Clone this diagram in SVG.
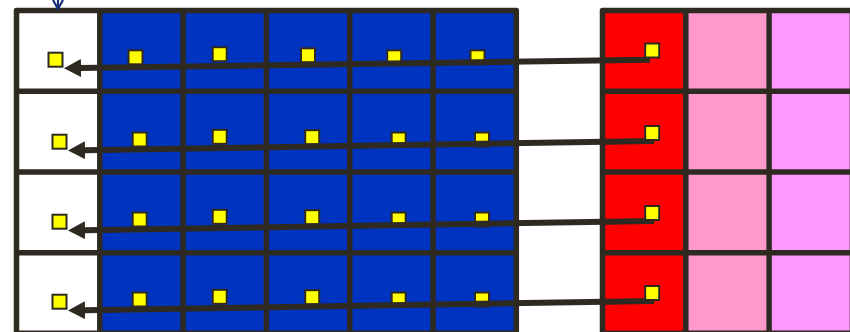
<svg xmlns="http://www.w3.org/2000/svg" width="850" height="332" viewBox="0 0 850 332">
<style>
.grid{fill:none;stroke:#2f2a21;stroke-width:5.5;stroke-linejoin:round}
.sq{fill:#ffff00;stroke:#2f2a21;stroke-width:2}
.arr{fill:none;stroke:#2f2a21;stroke-width:6;marker-end:url(#ah)}
</style>
<defs>
<marker id="ah" markerUnits="userSpaceOnUse" viewBox="0 0 18 18" refX="1" refY="9" markerWidth="18" markerHeight="18" orient="auto">
<path d="M0,0 L17,9 L0,18 z" fill="#2f2a21"/>
</marker>
</defs>
<rect width="850" height="332" fill="#ffffff"/>
<g id="left-grid">
<rect x="16.5" y="10.5" width="83.3" height="323" fill="#ffffff"/>
<rect x="99.8" y="10.5" width="416.5" height="323" fill="#0033c0"/>
<rect class="grid" x="16.5" y="10.5" width="499.8" height="322.8"/>
<path class="grid" d="M99.8,10.5V333.3M183.1,10.5V333.3M266.4,10.5V333.3M349.7,10.5V333.3M433,10.5V333.3M16.5,91.3H516.3M16.5,172H516.3M16.5,252.7H516.3"/>
</g>
<g id="right-grid">
<rect x="602.5" y="10.5" width="83.3" height="323" fill="#ff0000"/>
<rect x="685.8" y="10.5" width="83.3" height="323" fill="#ff99cc"/>
<rect x="769.1" y="10.5" width="83.3" height="323" fill="#ff99ff"/>
<rect class="grid" x="602.5" y="10.5" width="249.9" height="322.8"/>
<path class="grid" d="M685.8,10.5V333.3M769.1,10.5V333.3M602.5,91.3H852.4M602.5,172H852.4M602.5,252.7H852.4"/>
</g>
<g id="top-arrow" stroke="#16307a" stroke-width="2.2" fill="none">
<path d="M58,-2V9"/>
<path d="M53,0L58,9L63,0"/>
</g>
<g id="row1">
<rect class="sq" x="48.5" y="52.7" width="14" height="14"/>
<rect class="sq" x="128.5" y="50.3" width="14" height="14"/>
<rect class="sq" x="212.7" y="47.2" width="14" height="14"/>
<rect class="sq" x="301" y="48.3" width="14" height="14"/>
<rect class="sq" x="387.2" y="50.3" width="14" height="14"/>
<rect class="sq" x="470.5" y="50.3" width="14" height="14"/>
</g>
<g id="row2">
<rect class="sq" x="52.5" y="134.7" width="14" height="14"/>
<rect class="sq" x="132.7" y="132.5" width="14" height="14"/>
<rect class="sq" x="212.7" y="129.8" width="14" height="14"/>
<rect class="sq" x="305.2" y="130.2" width="14" height="14"/>
<rect class="sq" x="391.7" y="132.5" width="14" height="14"/>
<rect class="sq" x="475" y="132.5" width="14" height="14"/>
</g>
<g id="row3" transform="translate(0,80)">
<rect class="sq" x="52.5" y="134.7" width="14" height="14"/>
<rect class="sq" x="132.7" y="132.5" width="14" height="14"/>
<rect class="sq" x="212.7" y="129.8" width="14" height="14"/>
<rect class="sq" x="305.2" y="130.2" width="14" height="14"/>
<rect class="sq" x="391.7" y="132.5" width="14" height="14"/>
<rect class="sq" x="475" y="132.5" width="14" height="14"/>
</g>
<g id="row4" transform="translate(0,160)">
<rect class="sq" x="52.5" y="134.7" width="14" height="14"/>
<rect class="sq" x="132.7" y="132.5" width="14" height="14"/>
<rect class="sq" x="212.7" y="129.8" width="14" height="14"/>
<rect class="sq" x="305.2" y="130.2" width="14" height="14"/>
<rect class="sq" x="391.7" y="132.5" width="14" height="14"/>
<rect class="sq" x="475" y="132.5" width="14" height="14"/>
</g>
<g id="connectors">
<path class="arr" d="M650,59.8L80,68"/>
<path class="arr" d="M654,141L84,150.2"/>
<path class="arr" d="M654,221L84,230.2"/>
<path class="arr" d="M654,301L84,310.2"/>
</g>
<g id="red-markers">
<rect class="sq" x="645.2" y="43.5" width="14" height="14"/>
<rect class="sq" x="645.2" y="126" width="14" height="14"/>
<rect class="sq" x="645.2" y="206" width="14" height="14"/>
<rect class="sq" x="645.2" y="286" width="14" height="14"/>
</g>
</svg>
